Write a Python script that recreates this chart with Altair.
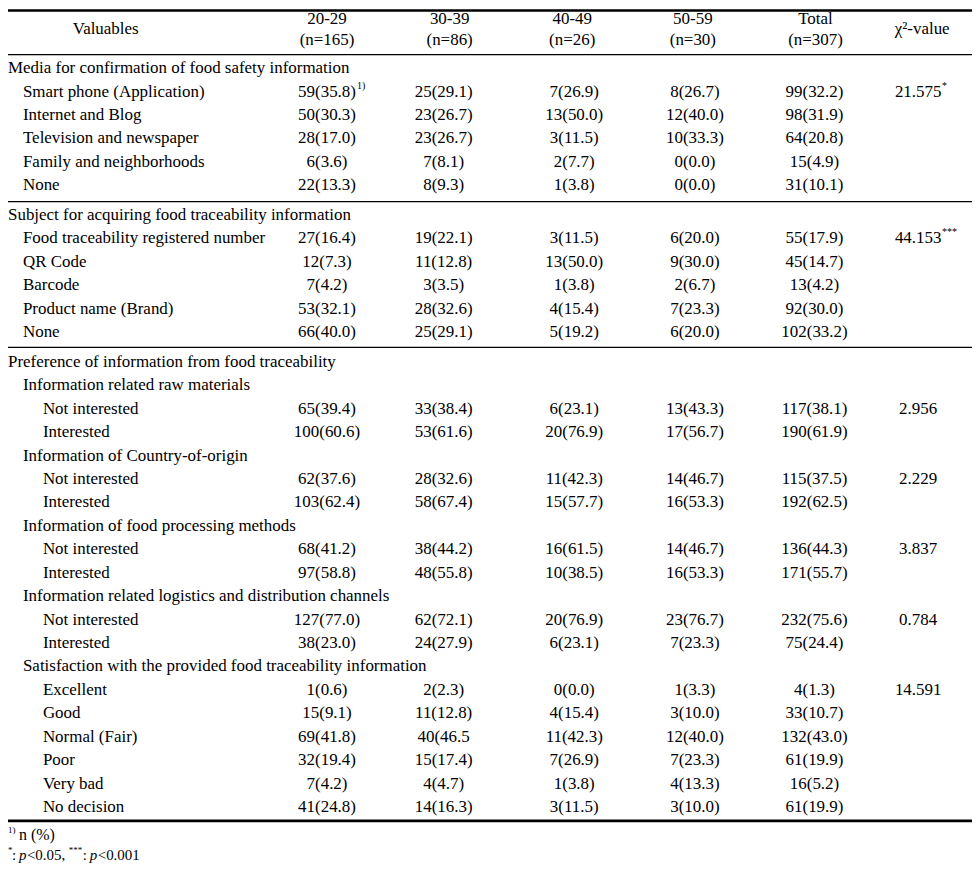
import altair as alt
import pandas as pd

# ---------------- data ----------------
labels = [
    "Media for confirmation of food safety information",
    "Smart phone (Application)",
    "Internet and Blog",
    "Television and newspaper",
    "Family and neighborhoods",
    "None",
    "Subject for acquiring food traceability information",
    "Food traceability registered number",
    "QR Code",
    "Barcode",
    "Product name (Brand)",
    "None",
    "Preference of information from food traceability",
    "Information related raw materials",
    "Not interested",
    "Interested",
    "Information of Country-of-origin",
    "Not interested",
    "Interested",
    "Information of food processing methods",
    "Not interested",
    "Interested",
    "Information related logistics and distribution channels",
    "Not interested",
    "Interested",
    "Satisfaction with the provided food traceability information",
    "Excellent",
    "Good",
    "Normal (Fair)",
    "Poor",
    "Very bad",
    "No decision",
]
levels = [0, 1, 1, 1, 1, 1,
          0, 1, 1, 1, 1, 1,
          0, 1, 2, 2, 1, 2, 2, 1, 2, 2, 1, 2, 2, 1, 2, 2, 2, 2, 2, 2]
sections = [0] * 6 + [1] * 6 + [2] * 20

age_20_29 = ["", "59(35.8)", "50(30.3)", "28(17.0)", "6(3.6)", "22(13.3)",
             "", "27(16.4)", "12(7.3)", "7(4.2)", "53(32.1)", "66(40.0)",
             "", "", "65(39.4)", "100(60.6)", "", "62(37.6)", "103(62.4)",
             "", "68(41.2)", "97(58.8)", "", "127(77.0)", "38(23.0)",
             "", "1(0.6)", "15(9.1)", "69(41.8)", "32(19.4)", "7(4.2)", "41(24.8)"]
age_30_39 = ["", "25(29.1)", "23(26.7)", "23(26.7)", "7(8.1)", "8(9.3)",
             "", "19(22.1)", "11(12.8)", "3(3.5)", "28(32.6)", "25(29.1)",
             "", "", "33(38.4)", "53(61.6)", "", "28(32.6)", "58(67.4)",
             "", "38(44.2)", "48(55.8)", "", "62(72.1)", "24(27.9)",
             "", "2(2.3)", "11(12.8)", "40(46.5", "15(17.4)", "4(4.7)", "14(16.3)"]
age_40_49 = ["", "7(26.9)", "13(50.0)", "3(11.5)", "2(7.7)", "1(3.8)",
             "", "3(11.5)", "13(50.0)", "1(3.8)", "4(15.4)", "5(19.2)",
             "", "", "6(23.1)", "20(76.9)", "", "11(42.3)", "15(57.7)",
             "", "16(61.5)", "10(38.5)", "", "20(76.9)", "6(23.1)",
             "", "0(0.0)", "4(15.4)", "11(42.3)", "7(26.9)", "1(3.8)", "3(11.5)"]
age_50_59 = ["", "8(26.7)", "12(40.0)", "10(33.3)", "0(0.0)", "0(0.0)",
             "", "6(20.0)", "9(30.0)", "2(6.7)", "7(23.3)", "6(20.0)",
             "", "", "13(43.3)", "17(56.7)", "", "14(46.7)", "16(53.3)",
             "", "14(46.7)", "16(53.3)", "", "23(76.7)", "7(23.3)",
             "", "1(3.3)", "3(10.0)", "12(40.0)", "7(23.3)", "4(13.3)", "3(10.0)"]
total = ["", "99(32.2)", "98(31.9)", "64(20.8)", "15(4.9)", "31(10.1)",
         "", "55(17.9)", "45(14.7)", "13(4.2)", "92(30.0)", "102(33.2)",
         "", "", "117(38.1)", "190(61.9)", "", "115(37.5)", "192(62.5)",
         "", "136(44.3)", "171(55.7)", "", "232(75.6)", "75(24.4)",
         "", "4(1.3)", "33(10.7)", "132(43.0)", "61(19.9)", "16(5.2)", "61(19.9)"]
chi_square = ["", "21.575", "", "", "", "",
              "", "44.153", "", "", "", "",
              "", "", "2.956", "", "", "2.229", "",
              "", "3.837", "", "", "0.784", "",
              "", "14.591", "", "", "", "", ""]

header_line1 = ["20-29", "30-39", "40-49", "50-59", "Total"]
header_line2 = ["(n=165)", "(n=86)", "(n=26)", "(n=30)", "(n=307)"]
header_single = ["Valuables", "χ²-value"]

note_rows = [1, 1, 7]
note_cols = ["d_20_29", "d_chi", "d_chi"]
note_marks = ["1)", "*", "***"]

footnote1 = ["1)", "n (%)"]
footnote2 = ["*", ":", "p", "<0.05,", "***", ":", "p", "<0.001"]

# ---------------- layout ----------------
FONT = "Liberation Serif"
FS = 17
W, H = 967, 860
SECTION_GAP = 0.27
row_slot = [i + SECTION_GAP * s for i, s in enumerate(sections)]

# column anchors (ordered left to right), mapped through a piecewise-linear scale
col_keys = ["lab0", "lab1", "lab2", "h_var", "d_20_29", "d_30_39", "h_30_39",
            "h_40_49", "d_40_49", "h_50_59", "d_50_59", "d_total", "h_total",
            "d_chi", "h_chi"]
col_pos = [0, 15, 35, 98, 320, 437, 443, 566, 568, 687, 689, 809, 810, 913, 917]
col_index = {k: i for i, k in enumerate(col_keys)}
alias = {"h_20_29": "d_20_29"}

xscale = alt.Scale(domain=list(range(len(col_keys))), range=col_pos,
                   zero=False, nice=False)
yscale = alt.Scale(domain=[0, 31 + 2 * SECTION_GAP], range=[59, 800.2],
                   zero=False, nice=False)


def X():
    return alt.X("ci:Q", scale=xscale, axis=None)


def Y():
    return alt.Y("slot:Q", scale=yscale, axis=None)


def ci(key):
    return col_index[alias.get(key, key)]


# label table
lab_df = pd.DataFrame({"text": labels,
                       "ci": [ci("lab%d" % l) for l in levels],
                       "slot": row_slot})

# cell table
cell_cols = {"d_20_29": age_20_29, "d_30_39": age_30_39, "d_40_49": age_40_49,
             "d_50_59": age_50_59, "d_total": total, "d_chi": chi_square}
cells = []
for key, vals in cell_cols.items():
    for i, v in enumerate(vals):
        if v:
            cells.append({"text": v, "ci": ci(key), "slot": row_slot[i]})
cell_df = pd.DataFrame(cells)

# header table
hkeys = ["h_20_29", "h_30_39", "h_40_49", "h_50_59", "h_total"]
head = []
for k, a, b in zip(hkeys, header_line1, header_line2):
    head.append({"text": a, "ci": ci(k), "slot": -2.085})
    head.append({"text": b, "ci": ci(k), "slot": -1.19})
head.append({"text": header_single[0], "ci": ci("h_var"), "slot": -1.66})
head.append({"text": header_single[1], "ci": ci("h_chi"), "slot": -1.66})
head_df = pd.DataFrame(head)

# rules
thick_df = pd.DataFrame({"slot": [-2.46, 32.13]})
thin_df = pd.DataFrame({"slot": [-0.574, 5.70, 11.915]})


def text_layer(df, align="center", size=FS, **kw):
    return alt.Chart(df).mark_text(align=align, baseline="middle", font=FONT,
                                   fontSize=size, color="black", **kw).encode(
        x=X(), y=Y(), text="text:N")


layers = []
layers.append(alt.Chart(thick_df).mark_rule(color="black", strokeWidth=2.6).encode(
    y=Y(), x=alt.value(0), x2=alt.value(W)))
layers.append(alt.Chart(thin_df).mark_rule(color="black", strokeWidth=1.2).encode(
    y=Y(), x=alt.value(0), x2=alt.value(W)))
layers.append(text_layer(lab_df, align="left"))
layers.append(text_layer(cell_df))
layers.append(text_layer(head_df))

# superscript notes
note_df = pd.DataFrame({"text": note_marks, "ci": [ci(c) for c in note_cols],
                        "slot": [row_slot[r] for r in note_rows]})
note_dx = {"d_20_29": 30, "d_chi": 24}
for key, dx in note_dx.items():
    sub = note_df[note_df["ci"] == ci(key)]
    layers.append(text_layer(sub, align="left", size=10, dx=dx, dy=-6))

# footnotes
fy1 = 32.72
fy2 = 33.57
f1 = pd.DataFrame({"text": [footnote1[0]], "ci": [ci("lab0")], "slot": [fy1]})
layers.append(text_layer(f1, align="left", size=9, dy=-5))
f1b = pd.DataFrame({"text": [footnote1[1]], "ci": [ci("lab0")], "slot": [fy1]})
layers.append(text_layer(f1b, align="left", size=16, dx=11))

pieces = [  # (text index, dx, size, style, dy)
    (0, 0, 9, "normal", -5),
    (1, 4, 15, "normal", 0),
    (2, 11, 15, "italic", 0),
    (3, 19, 15, "normal", 0),
    (4, 61, 9, "normal", -5),
    (5, 75, 15, "normal", 0),
    (6, 82, 15, "italic", 0),
    (7, 90, 15, "normal", 0),
]
for idx, dx, size, style, dy in pieces:
    d = pd.DataFrame({"text": [footnote2[idx]], "ci": [ci("lab0")], "slot": [fy2]})
    layers.append(text_layer(d, align="left", size=size, dx=dx, dy=dy, fontStyle=style))

chart = alt.layer(*layers).properties(
    width=W, height=H, padding=0, autosize="none"
).configure_view(stroke=None)

chart.save("out.html", embed_options={"renderer": "svg", "actions": False})
